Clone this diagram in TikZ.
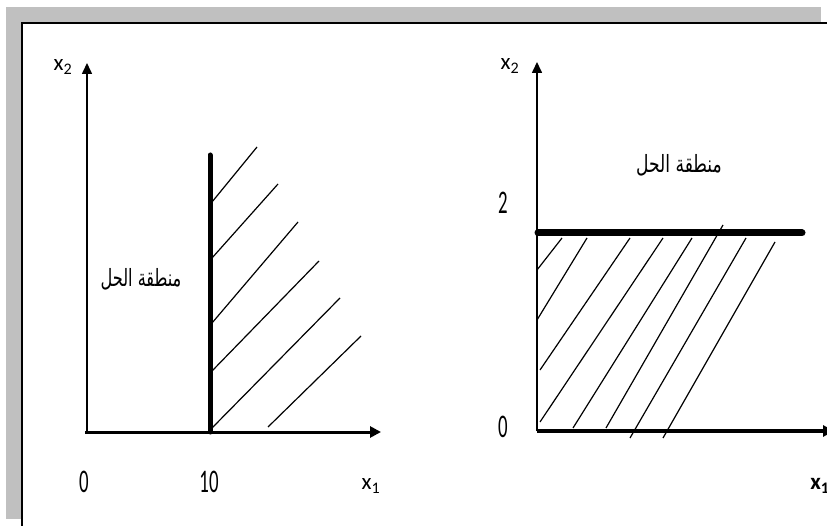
\documentclass[tikz,border=0pt]{standalone}
\usepackage{fontspec}
\usetikzlibrary{arrows.meta}
\setmainfont{Carlito}
\newfontfamily\arabicfont[Script=Arabic]{DejaVu Sans}
\TeXXeTstate=1
\definecolor{shadowgrey}{RGB}{192,192,192}
\tikzset{
  axisthin/.style={line width=1.6pt,-{Triangle[length=11pt,width=10pt]}},
  axisthick/.style={line width=3pt,-{Triangle[length=11pt,width=11pt]}},
  bound/.style={line width=5pt,line cap=round},
  hatch/.style={line width=1.2pt},
  numlbl/.style={inner sep=0pt,font=\fontsize{33}{36}\selectfont},
  varlbl/.style={inner sep=0pt,font=\fontsize{23}{26}\selectfont},
  arlbl/.style={inner sep=0pt,font=\arabicfont\fontsize{19}{22}\selectfont}
}
\newcommand{\narrow}[1]{\scalebox{0.57}[1]{#1}}
\begin{document}
\begin{tikzpicture}[x=1pt,y=-1pt]
\useasboundingbox (0,0) rectangle (827,526);
% frame
\fill[shadowgrey] (6,7) rectangle (821,519);
\draw[fill=white,line width=1.6pt] (22,23) rectangle (860,560);

% ---- left graph ----
\coordinate (LO) at (87,432);
\coordinate (LYtop) at (87,63);
\coordinate (LXs) at (85,432);
\coordinate (LXtip) at (381,432);
\coordinate (Bbot) at (210,432);
\coordinate (Btop) at (210,155);
\draw[hatch] (212,202) -- (257,147);
\draw[hatch] (212,258) -- (278,184);
\draw[hatch] (212,323) -- (298,222);
\draw[hatch] (212,371) -- (319,261);
\draw[hatch] (212,428) -- (340,298);
\draw[hatch] (268,427) -- (361,336);
\draw[axisthin] (LO) -- (LYtop);
\draw[axisthick] (LXs) -- (LXtip);
\draw[bound] (Bbot) -- (Btop);
\node[varlbl] (lx2) at (63,67) {x\textsubscript{2}};
\node[numlbl] (l0) at (84,482) {\narrow{0}};
\node[numlbl] (l10) at (209,482) {\narrow{10}};
\node[varlbl] (lx1) at (371,486) {x\textsubscript{1}};
\node[arlbl] (lsol) at (141,279) {\scalebox{0.85}[1.25]{\beginR منطقة الحل\endR}};

% ---- right graph ----
\coordinate (RO) at (537,431);
\coordinate (RYtop) at (537,62);
\coordinate (RXtip) at (834,431);
\coordinate (HL) at (538,233);
\coordinate (HR) at (802,233);
\draw[hatch] (537,270) -- (562,238);
\draw[hatch] (537,320) -- (587,238);
\draw[hatch] (540,370) -- (630,238);
\draw[hatch] (540,422) -- (663,238);
\draw[hatch] (573,428) -- (692,238);
\draw[hatch] (606,428) -- (723,225);
\draw[hatch] (630,438) -- (746,238);
\draw[hatch] (663,438) -- (775,242);
\draw[axisthin] (RO) -- (RYtop);
\draw[axisthick,line width=3.5pt] (RO) -- (RXtip);
\draw[bound,line width=7pt] (HL) -- (HR);
\node[varlbl] (rx2) at (510,66) {x\textsubscript{2}};
\node[numlbl] (r2) at (503,203) {\narrow{2}};
\node[numlbl] (r0) at (503,427) {\narrow{0}};
\node[varlbl,font=\fontsize{23}{26}\selectfont\bfseries] (rx1) at (820,486) {x\textsubscript{1}};
\node[arlbl] (rsol) at (679,165) {\scalebox{0.9}[1.25]{\beginR منطقة الحل\endR}};
\end{tikzpicture}
\end{document}
